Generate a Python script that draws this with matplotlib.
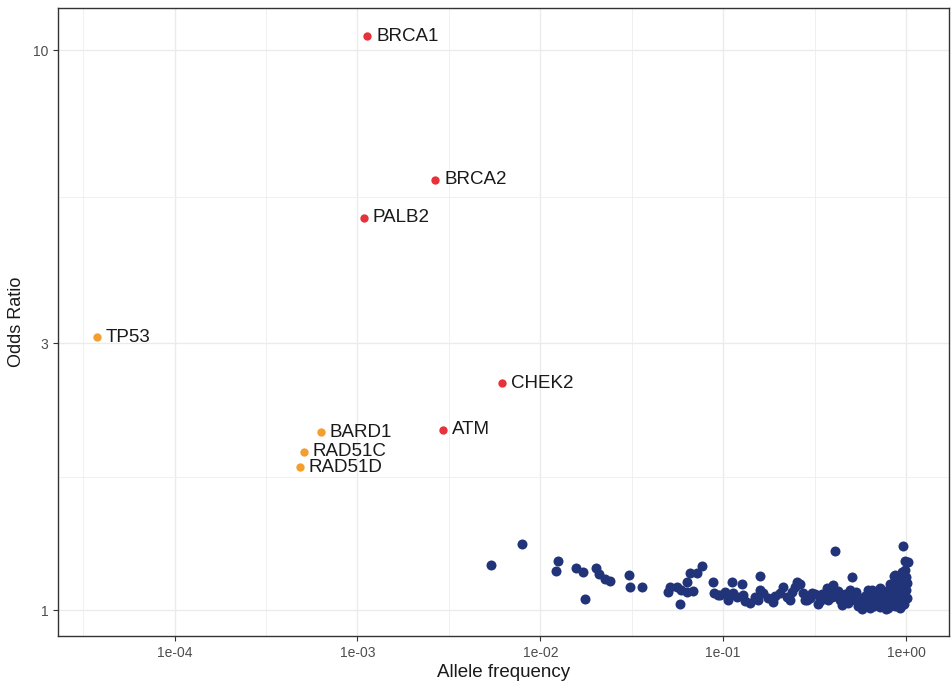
import numpy as np
import matplotlib.pyplot as plt
from matplotlib.ticker import FixedLocator, NullFormatter

plt.rcParams['font.family'] = ['Liberation Sans', 'DejaVu Sans']

# labelled genes
genes = ['BRCA1', 'BRCA2', 'PALB2', 'TP53', 'CHEK2', 'ATM', 'BARD1', 'RAD51C', 'RAD51D']
gene_af = [1.13e-3, 2.67e-3, 1.08e-3, 3.75e-5, 6.2e-3, 2.95e-3, 6.3e-4, 5.07e-4, 4.82e-4]
gene_or = [10.6, 5.87, 5.02, 3.07, 2.54, 2.10, 2.08, 1.92, 1.80]
gene_grp = ['high', 'high', 'high', 'mod', 'high', 'high', 'mod', 'mod', 'mod']

# common variants (background)
snp_af = [0.00538, 0.00797, 0.01244, 0.01223, 0.01559, 0.01703, 0.01754, 0.02023, 0.02084,
          0.02266, 0.02415, 0.03064, 0.03113, 0.03608, 0.0509, 0.0502, 0.0558, 0.0587,
          0.0633, 0.0683, 0.0633, 0.0655, 0.0724, 0.0765, 0.0582, 0.0884, 0.0893, 0.0943,
          0.0964, 0.103, 0.113, 0.119, 0.129, 0.141, 0.150, 0.165, 0.176, 0.188, 0.205,
          0.213, 0.224, 0.238, 0.247, 0.254, 0.263, 0.274, 0.288, 0.107, 0.132, 0.155,
          0.192, 0.232, 0.159, 0.112, 0.127, 0.160,
          0.299, 0.318, 0.339, 0.361, 0.384, 0.399, 0.414, 0.436, 0.464, 0.482, 0.507,
          0.533, 0.561, 0.575, 0.597, 0.620, 0.644, 0.669, 0.694, 0.721, 0.749, 0.777,
          0.797, 0.818, 0.838, 0.860, 0.882, 0.904, 0.927, 0.951, 0.975, 1.0, 1.013,
          0.988, 0.871,
          0.505, 0.410, 0.966, 0.988, 1.029,
          0.447, 0.494, 0.526, 0.547, 0.582, 0.612, 0.628, 0.652, 0.677, 0.703, 0.730,
          0.758, 0.787, 0.807, 0.828, 0.849, 0.871, 0.893, 0.916, 0.939, 0.963, 0.988,
          1.0, 1.013, 0.975, 0.927, 0.721, 0.636, 0.797, 0.893, 0.916, 0.951,
          0.281, 0.306, 0.330, 0.347, 0.375, 0.394, 0.425, 0.453, 0.370]
snp_or = [1.205, 1.313, 1.225, 1.173, 1.190, 1.171, 1.048, 1.187, 1.159,
          1.138, 1.128, 1.155, 1.099, 1.099, 1.101, 1.078, 1.101, 1.086,
          1.078, 1.083, 1.124, 1.166, 1.163, 1.199, 1.024, 1.124, 1.071, 1.064,
          1.064, 1.078, 1.073, 1.055, 1.064, 1.029, 1.055, 1.073, 1.051, 1.033, 1.073,
          1.099, 1.055, 1.077, 1.099, 1.122, 1.113, 1.073, 1.042, 1.042, 1.038, 1.042,
          1.059, 1.042, 1.086, 1.124, 1.113, 1.150,
          1.051, 1.068, 1.038, 1.059, 1.086, 1.109, 1.059, 1.042, 1.068, 1.029, 1.051,
          1.077, 1.025, 1.004, 1.059, 1.086, 1.038, 1.017, 1.064, 1.095, 1.042, 1.004,
          1.068, 1.113, 1.029, 1.150, 1.086, 1.051, 1.118, 1.021, 1.077, 1.146, 1.051,
          1.179, 1.155,
          1.147, 1.277, 1.302, 1.225, 1.217,
          1.021, 1.086, 1.042, 1.017, 1.051, 1.029, 1.064, 1.086, 1.042, 1.025, 1.059,
          1.081, 1.029, 1.042, 1.059, 1.086, 1.017, 1.113, 1.073, 1.042, 1.099, 1.051,
          1.086, 1.118, 1.025, 1.008, 1.012, 1.008, 1.008, 1.042, 1.141, 1.170,
          1.042, 1.073, 1.025, 1.068, 1.042, 1.055, 1.081, 1.051, 1.095]

colors = {'high': '#E5323B', 'mod': '#F49E30'}
navy = '#213479'

fig = plt.figure(figsize=(9.51, 6.88), dpi=100)
ax = fig.add_axes([58 / 951, 52 / 688, 891 / 951, 628 / 688])

ax.scatter(snp_af, snp_or, s=52, color=navy, linewidths=0, zorder=3)
for g, x, y, grp in zip(genes, gene_af, gene_or, gene_grp):
    ax.scatter([x], [y], s=36, color=colors[grp], linewidths=0, zorder=4)
    ax.annotate(g, (x, y), xytext=(6.5, 0), textcoords='offset points',
                ha='left', va='center', fontsize=13.5, color='#1a1a1a', zorder=5)

ax.set_xscale('log')
ax.set_yscale('log')
ax.set_xlim(2.3e-5, 1.72)
ax.set_ylim(0.899, 11.9)

ax.xaxis.set_major_locator(FixedLocator([1e-4, 1e-3, 1e-2, 1e-1, 1]))
ax.set_xticklabels(['1e-04', '1e-03', '1e-02', '1e-01', '1e+00'])
ax.xaxis.set_minor_locator(FixedLocator([10 ** -4.5, 10 ** -3.5, 10 ** -2.5, 10 ** -1.5, 10 ** -0.5]))
ax.xaxis.set_minor_formatter(NullFormatter())
ax.yaxis.set_major_locator(FixedLocator([1, 3, 10]))
ax.set_yticklabels(['1', '3', '10'])
ax.yaxis.set_minor_locator(FixedLocator([np.sqrt(3), np.sqrt(30)]))
ax.yaxis.set_minor_formatter(NullFormatter())

ax.grid(True, which='major', color='#EBEBEB', linewidth=1.0, zorder=0)
ax.grid(True, which='minor', color='#F0F0F0', linewidth=0.7, zorder=0)
ax.set_axisbelow(True)
ax.tick_params(which='major', length=3.5, width=0.8, color='#333333',
               labelsize=10, labelcolor='#4D4D4D')
ax.tick_params(which='minor', length=0)
for sp in ax.spines.values():
    sp.set_color('#333333')
    sp.set_linewidth(1.0)

ax.set_xlabel('Allele frequency', fontsize=13.5, color='#1a1a1a', labelpad=3)
ax.set_ylabel('Odds Ratio', fontsize=13, color='#1a1a1a', labelpad=6)

fig.savefig('out.png', dpi=100)
